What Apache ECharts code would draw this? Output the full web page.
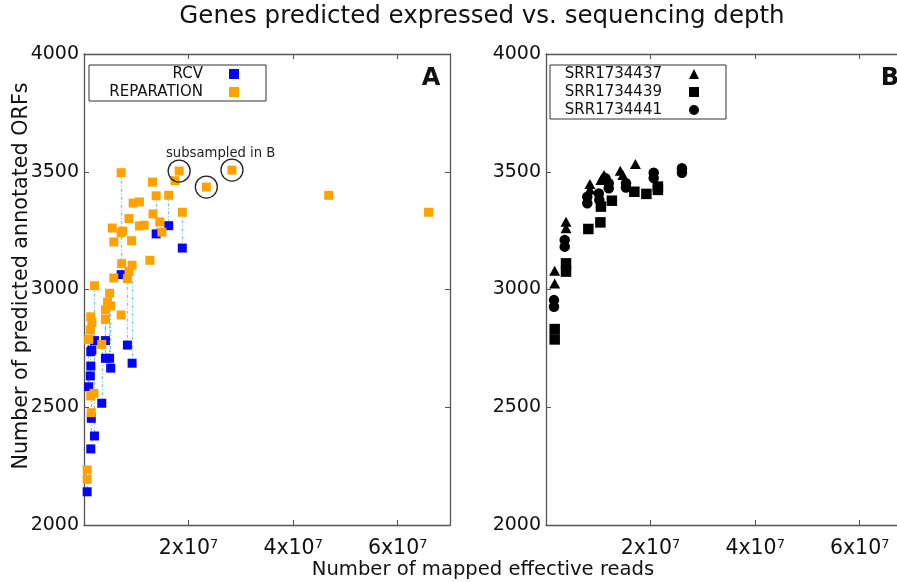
<!DOCTYPE html>
<html><head><meta charset="utf-8">
<script src="https://cdn.jsdelivr.net/npm/echarts@6/dist/echarts.min.js"></script>
<style>html,body{margin:0;padding:0;background:#fff}#c{width:897px;height:582px}</style>
</head><body><div id="c"></div>
<script>
const M = 1e6;
// ---- Panel A: samples (x in millions of mapped effective reads) ----
const sampleX    = [7.1, 13.8, 16.2, 18.8, 8.3, 9.2, 2.0, 3.4, 4.1, 4.9, 5.1, 4.1, 1.3, 1.5, 1.2, 0.9, 1.4, 1.3, 0.6, 2.0, 1.3,
                    7.2, 7.1, 7.4, 13.1, 17.4, 18.2, 23.4, 28.3, 46.8, 65.9, 9.4, 10.6, 13.2, 14.5, 8.6, 5.4, 10.6, 11.5, 14.9,
                    5.7, 9.1, 12.6, 8.6, 5.7, 4.5, 7.1, 1.9, 0.6];
const reparation = [3496, 3398, 3400, 3328, 3046, 3103, 3016, 2767, 2913, 2984, 2930, 2873, 2884, 2860, 2828, 2788, 2477, 2548, 2234, null, null,
                    3110, 3241, 3248, 3456, 3462, 3503, 3435, 3507, 3400, 3328, 3367, 3372, 3321, 3287, 3301, 3261, 3270, 3273, 3244,
                    3202, 3207, 3124, 3076, 3049, 2946, 2892, 2559, 2194];
const rcv        = [3063, 3236, 3271, 3176, 2764, 2687, 2378, 2517, 2708, 2708, 2666, 2783, 2736, 2743, 2633, 2587, 2453, 2323, 2141, 2783, 2675,
                    null, null, null, null, null, null, null, null, null, null, null, null, null, null, null, null, null, null, null,
                    null, null, null, null, null, null, null, null, null];
// samples subsampled for panel B
const subX = [18.2, 23.4, 28.3];
const subY = [3503, 3435, 3507];

// ---- Panel B ----
const s37X = [1.66, 1.66, 3.83, 3.83, 8.4, 8.4, 10.5, 10.8, 11.1, 14.2, 14.7, 17.1];
const s37Y = [3080, 3026, 3288, 3260, 3448, 3425, 3465, 3475, 3486, 3504, 3486, 3533];
const s39X = [1.66, 1.66, 3.83, 3.83, 8.1, 10.4, 10.5, 12.6, 16.9, 19.2, 21.4, 21.4];
const s39Y = [2832, 2788, 3111, 3076, 3257, 3285, 3352, 3377, 3415, 3406, 3437, 3423];
const s41X = [1.53, 1.53, 3.58, 3.58, 7.9, 7.9, 10.1, 10.2, 11.4, 12.0, 12.0, 15.3, 15.3, 20.6, 20.6, 26.0, 26.0];
const s41Y = [2955, 2927, 3210, 3182, 3394, 3366, 3408, 3380, 3472, 3451, 3430, 3451, 3433, 3496, 3473, 3515, 3496];

// ---- ticks ----
const xTickValues = [2e7, 4e7, 6e7];
const xTickMantissa = ['2', '4', '6'];
const xTickExp = '7';
const yTickLabels = ['2000', '2500', '3000', '3500', '4000'];

const FONT = 'DejaVu Sans';
const TXT = '#111';
const AX = '#555';

function pts(xs, ys) { return xs.map((x, i) => [x * M, ys[i]]); }

const repData = [], rcvData = [], linkData = [];
sampleX.forEach((x, i) => {
  if (reparation[i] != null) repData.push([x * M, reparation[i]]);
  if (rcv[i] != null) rcvData.push([x * M, rcv[i]]);
  if (reparation[i] != null && rcv[i] != null) linkData.push({coords: [[x * M, reparation[i]], [x * M, rcv[i]]]});
});

function xAxis(grid, pos, labels) {
  return {
    type: 'value', gridIndex: grid, position: pos, min: 0, max: 7e7, interval: 2e7,
    axisLine: {show: true, onZero: false, lineStyle: {color: AX, width: 1.3}},
    axisTick: {show: true, inside: true, length: 5, lineStyle: {color: AX, width: 1}},
    splitLine: {show: false},
    axisLabel: labels ? {
      margin: 13,
      formatter: v => { const i = xTickValues.indexOf(v); return i < 0 ? '' : '{m|' + xTickMantissa[i] + 'x10}{e|' + xTickExp + '}'; },
      rich: {
        m: {fontSize: 20.5, fontFamily: FONT, color: TXT},
        e: {fontSize: 13, fontFamily: FONT, color: TXT, verticalAlign: 'top'}
      }
    } : {show: false}
  };
}
function yAxis(grid, pos, labels) {
  return {
    type: 'value', gridIndex: grid, position: pos, min: 2000, max: 4000, interval: 500,
    axisLine: {show: true, onZero: false, lineStyle: {color: AX, width: 1.3}},
    axisTick: {show: true, inside: true, length: 5, lineStyle: {color: AX, width: 1}},
    splitLine: {show: false},
    axisLabel: labels ? {
      margin: 5, fontSize: 19, fontFamily: FONT, color: TXT,
      formatter: v => { const s = String(v); return yTickLabels.indexOf(s) >= 0 ? s : ''; }
    } : {show: false}
  };
}

const chart = echarts.init(document.getElementById('c'), null, {renderer: 'canvas'});
chart.setOption({
  backgroundColor: '#fff',
  animation: false,
  title: [
    {text: 'Genes predicted expressed vs. sequencing depth', left: 482, top: 4, padding: 0, textAlign: 'center',
     textStyle: {fontSize: 24.5, fontWeight: 'normal', fontFamily: FONT, color: TXT}},
    {text: 'Number of mapped effective reads', left: 483, top: 560, padding: 0, textAlign: 'center',
     textStyle: {fontSize: 19.6, fontWeight: 'normal', fontFamily: FONT, color: TXT}},
    {text: 'A', left: 431, top: 67, padding: 0, textAlign: 'center',
     textStyle: {fontSize: 24, fontWeight: 'bold', fontFamily: FONT, color: TXT}},
    {text: 'B', left: 890, top: 67, padding: 0, textAlign: 'center',
     textStyle: {fontSize: 24, fontWeight: 'bold', fontFamily: FONT, color: TXT}},
    {text: 'subsampled in B', left: 166, top: 147, padding: 0,
     textStyle: {fontSize: 13.2, fontWeight: 'normal', fontFamily: FONT, color: '#222'}}
  ],
  graphic: [
    {type: 'text', x: 22, y: 276, rotation: Math.PI / 2, silent: true,
     style: {text: 'Number of predicted annotated ORFs', fontSize: 20.7, fontFamily: FONT, fill: TXT,
             align: 'center', verticalAlign: 'middle'}}
  ],
  legend: [
    {data: ['RCV', 'REPARATION'], orient: 'vertical', left: 89, top: 65, align: 'right',
     itemWidth: 10, itemHeight: 10, itemGap: 0, padding: [0, 27, 0, 17], symbolKeepAspect: true,
     borderColor: '#333', borderWidth: 1, selectedMode: false,
     textStyle: {fontSize: 15, fontFamily: FONT, color: TXT, width: 97, lineHeight: 18, padding: [0, 21, 0, 0]}},
    {data: ['SRR1734437', 'SRR1734439', 'SRR1734441'], orient: 'vertical', left: 550, top: 65, align: 'right',
     itemWidth: 10, itemHeight: 10, itemGap: 0, padding: [0, 27, 0, 14], symbolKeepAspect: true,
     borderColor: '#333', borderWidth: 1, selectedMode: false,
     textStyle: {fontSize: 15, fontFamily: FONT, color: TXT, width: 98, lineHeight: 18, padding: [0, 22, 0, 0]}}
  ],
  grid: [
    {left: 84, top: 54, width: 366, height: 471, outerBoundsMode: 'none'},
    {left: 546, top: 54, width: 366, height: 471, outerBoundsMode: 'none'}
  ],
  xAxis: [xAxis(0, 'bottom', true), xAxis(0, 'top', false), xAxis(1, 'bottom', true), xAxis(1, 'top', false)],
  yAxis: [yAxis(0, 'left', true), yAxis(0, 'right', false), yAxis(1, 'left', true), yAxis(1, 'right', false)],
  series: [
    {type: 'lines', name: 'link', coordinateSystem: 'cartesian2d', xAxisIndex: 0, yAxisIndex: 0, polyline: false,
     data: linkData, lineStyle: {color: '#7cc4ec', width: 1.3, type: [3, 2, 1, 2], opacity: 1}, z: 1, silent: true},
    {type: 'scatter', name: 'RCV', xAxisIndex: 0, yAxisIndex: 0, symbol: 'rect', symbolSize: 9,
     itemStyle: {color: '#0505f5', opacity: 1}, data: rcvData, z: 2},
    {type: 'scatter', name: 'REPARATION', xAxisIndex: 0, yAxisIndex: 0, symbol: 'rect', symbolSize: 9,
     itemStyle: {color: '#ffa200', opacity: 1}, data: repData, z: 3},
    {type: 'scatter', name: 'subsampled', xAxisIndex: 0, yAxisIndex: 0, symbol: 'circle', symbolSize: 22,
     itemStyle: {color: 'rgba(0,0,0,0)', borderColor: '#222', borderWidth: 1.3, opacity: 1}, data: pts(subX, subY), z: 4},
    {type: 'scatter', name: 'SRR1734437', xAxisIndex: 2, yAxisIndex: 2, symbol: 'triangle', symbolSize: [11, 10],
     itemStyle: {color: '#000', opacity: 1}, data: pts(s37X, s37Y), z: 3},
    {type: 'scatter', name: 'SRR1734439', xAxisIndex: 2, yAxisIndex: 2, symbol: 'rect', symbolSize: 10.5,
     itemStyle: {color: '#000', opacity: 1}, data: pts(s39X, s39Y), z: 3},
    {type: 'scatter', name: 'SRR1734441', xAxisIndex: 2, yAxisIndex: 2, symbol: 'circle', symbolSize: 10.5,
     itemStyle: {color: '#000', opacity: 1}, data: pts(s41X, s41Y), z: 3}
  ]
});
</script></body></html>
